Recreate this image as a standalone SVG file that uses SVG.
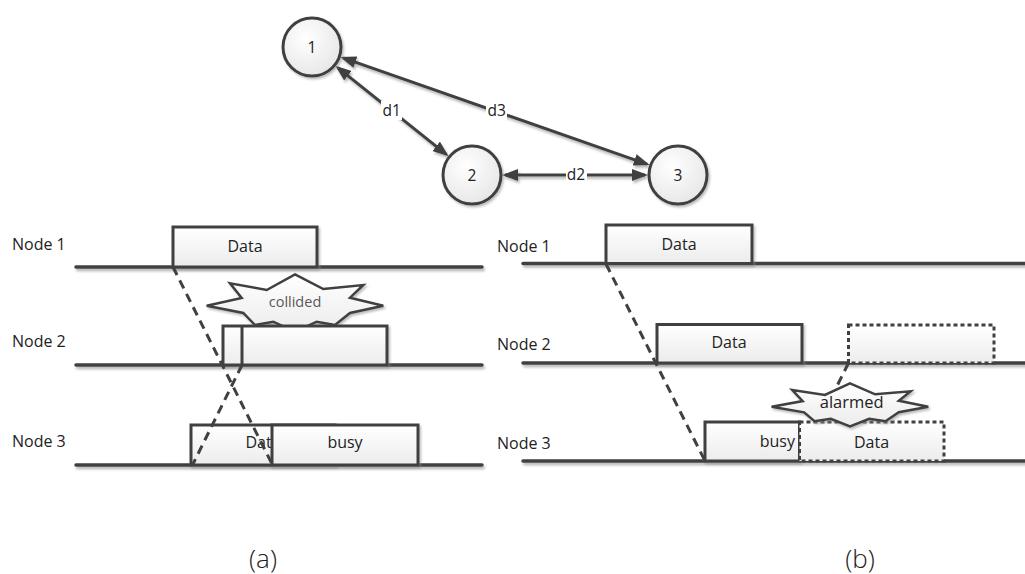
<svg xmlns="http://www.w3.org/2000/svg" width="1025" height="574" viewBox="0 0 1025 574">
<defs>
  <linearGradient id="gf" x1="0" y1="0" x2="0" y2="1">
    <stop offset="0" stop-color="#ffffff"/>
    <stop offset="1" stop-color="#ececec"/>
  </linearGradient>
  <radialGradient id="gc" cx="0.4" cy="0.35" r="0.7">
    <stop offset="0" stop-color="#ffffff"/>
    <stop offset="1" stop-color="#e6e6e6"/>
  </radialGradient>
  <filter id="sh" x="-20%" y="-20%" width="140%" height="160%">
    <feDropShadow dx="1.5" dy="2" stdDeviation="1" flood-color="#888" flood-opacity="0.55"/>
  </filter>
  <filter id="shl" filterUnits="userSpaceOnUse" x="0" y="0" width="1025" height="574">
    <feDropShadow dx="1.5" dy="2.5" stdDeviation="1" flood-color="#888" flood-opacity="0.6"/>
  </filter>
  <marker id="ah" viewBox="0 0 16 12" refX="13" refY="6" markerWidth="16" markerHeight="12" markerUnits="userSpaceOnUse" orient="auto-start-reverse">
    <path d="M0,0 L16,6 L0,12 z" fill="#404040"/>
  </marker>
</defs>
<style>
  .t{font-family:"Open Sans","Liberation Sans",sans-serif;font-size:16px;fill:#222;}
  .c{text-anchor:middle;}
  .circ{fill:url(#gc);stroke:#404040;stroke-width:3;filter:url(#sh);}
  .box{fill:url(#gf);stroke:#404040;stroke-width:3;filter:url(#sh);}
  .dbox{fill:url(#gf);stroke:#404040;stroke-width:3;stroke-dasharray:4,3;}
  .tl{stroke:#404040;stroke-width:3.5;stroke-linecap:round;fill:none;filter:url(#shl);}
  .dash{stroke:#404040;stroke-width:3;stroke-dasharray:9,6;fill:none;}
  .arr{stroke:#404040;stroke-width:3;fill:none;marker-start:url(#ah);marker-end:url(#ah);filter:url(#shl);}
  .star{fill:url(#gf);stroke:#404040;stroke-width:2.5;stroke-linejoin:miter;filter:url(#sh);}
  .lbg{fill:#fff;}
</style>

<!-- top graph connectors -->
<g id="connectors">
  <line class="arr" x1="337.7" y1="67.6" x2="446.3" y2="154.4"/>
  <line class="arr" x1="343.1" y1="57.9" x2="646.9" y2="164.1"/>
  <line class="arr" x1="505" y1="175" x2="645" y2="175"/>
  <rect class="lbg" x="381" y="101" width="21" height="19"/>
  <text class="t c" x="391.7" y="116" style="font-size:15.5px">d1</text>
  <rect class="lbg" x="486" y="101" width="21" height="19"/>
  <text class="t c" x="496.7" y="116" style="font-size:15.5px">d3</text>
  <rect class="lbg" x="566" y="165" width="21" height="19"/>
  <text class="t c" x="576" y="180" style="font-size:15.5px">d2</text>
</g>

<g id="node-1">
  <circle class="circ" cx="312" cy="47" r="29"/>
  <text class="t c" x="312" y="52.7" style="font-size:15.5px">1</text>
</g>
<g id="node-2">
  <circle class="circ" cx="472" cy="175" r="29"/>
  <text class="t c" x="472" y="180.7" style="font-size:15.5px">2</text>
</g>
<g id="node-3">
  <circle class="circ" cx="678" cy="175" r="29"/>
  <text class="t c" x="678" y="180.7" style="font-size:15.5px">3</text>
</g>

<!-- panel (a) -->
<g id="panel-a">
  <text class="t" x="12" y="250">Node 1</text>
  <text class="t" x="12" y="347">Node 2</text>
  <text class="t" x="12" y="447">Node 3</text>
  <line class="tl" x1="76" y1="267" x2="482" y2="267"/>
  <line class="tl" x1="76" y1="365" x2="482" y2="365"/>
  <line class="tl" x1="76" y1="465" x2="482" y2="465"/>

  <g id="a-n1-data">
    <rect class="box" x="173" y="227" width="144" height="40"/>
    <text class="t c" x="245" y="251.7">Data</text>
  </g>

  <g id="a-collided">
    <polygon class="star" points="295,274.3 323.3,289 363.3,285 350,297.7 383.3,305.7 350,313 335,325 316.7,321.7 295,331.7 273.3,321.7 255,325 243.3,313 206.7,305.7 241.7,298 230,283.3 266.7,290"/>
    <text class="t c" x="295" y="306.7" style="font-size:14.5px;fill:#595959">collided</text>
  </g>

  <g id="a-n2-box">
    <rect class="box" x="223" y="326" width="164" height="39"/>
    <line x1="242" y1="326" x2="242" y2="365" stroke="#404040" stroke-width="3"/>
  </g>

  <g id="a-n3-data">
    <rect class="box" x="191" y="425" width="144" height="40"/>
    <text class="t c" x="263" y="448">Data</text>
  </g>
  <g id="a-n3-busy">
    <rect class="box" x="272" y="425" width="146" height="40"/>
    <text class="t c" x="345" y="448.3">busy</text>
  </g>

  <g id="a-dashes">
    <line class="dash" x1="173" y1="267" x2="272" y2="464"/>
    <line class="dash" x1="242" y1="365" x2="193" y2="464"/>
  </g>
</g>

<!-- panel (b) -->
<g id="panel-b">
  <text class="t" x="497" y="252">Node 1</text>
  <text class="t" x="497" y="350">Node 2</text>
  <text class="t" x="497" y="449">Node 3</text>
  <line class="tl" x1="523" y1="263.5" x2="1030" y2="263.5"/>
  <line class="tl" x1="523" y1="363" x2="1030" y2="363"/>
  <line class="tl" x1="523" y1="461" x2="1030" y2="461"/>

  <g id="b-n1-data">
    <rect class="box" x="606" y="225" width="146" height="38.5"/>
    <text class="t c" x="679" y="250">Data</text>
  </g>
  <g id="b-n2-data">
    <rect class="box" x="657" y="324.5" width="145" height="38.5"/>
    <text class="t c" x="729" y="348.3">Data</text>
  </g>
  <g id="b-n2-dashed">
    <rect class="dbox" x="848.5" y="325" width="145.5" height="38"/>
  </g>
  <g id="b-n3-busy">
    <rect class="box" x="705" y="422" width="94.5" height="39"/>
    <text class="t" x="795" y="446.7" text-anchor="end">busy</text>
  </g>
  <g id="b-n3-data">
    <rect class="dbox" x="799.5" y="422" width="144.5" height="39"/>
    <text class="t c" x="871.5" y="447.7">Data</text>
  </g>

  <g id="b-alarmed">
    <polygon class="star" points="850,383.3 875.1,394.3 910.6,391.3 898.8,400.8 928.3,406.8 898.8,412.3 885.5,421.3 869.2,418.8 850,426.3 830.8,418.8 814.5,421.3 804.1,412.3 771.6,406.8 802.7,401.1 792.3,390 824.9,394.9"/>
    <text class="t c" x="851.7" y="407.7" style="font-size:16.5px">alarmed</text>
  </g>

  <g id="b-dashes">
    <line class="dash" x1="606" y1="264" x2="705" y2="461"/>
    <line class="dash" x1="848.5" y1="363" x2="835" y2="390"/>
  </g>
</g>

<text class="t c" x="263" y="568" style="font-size:26px;font-weight:300">(a)</text>
<text class="t c" x="860" y="568" style="font-size:26px;font-weight:300">(b)</text>
</svg>
